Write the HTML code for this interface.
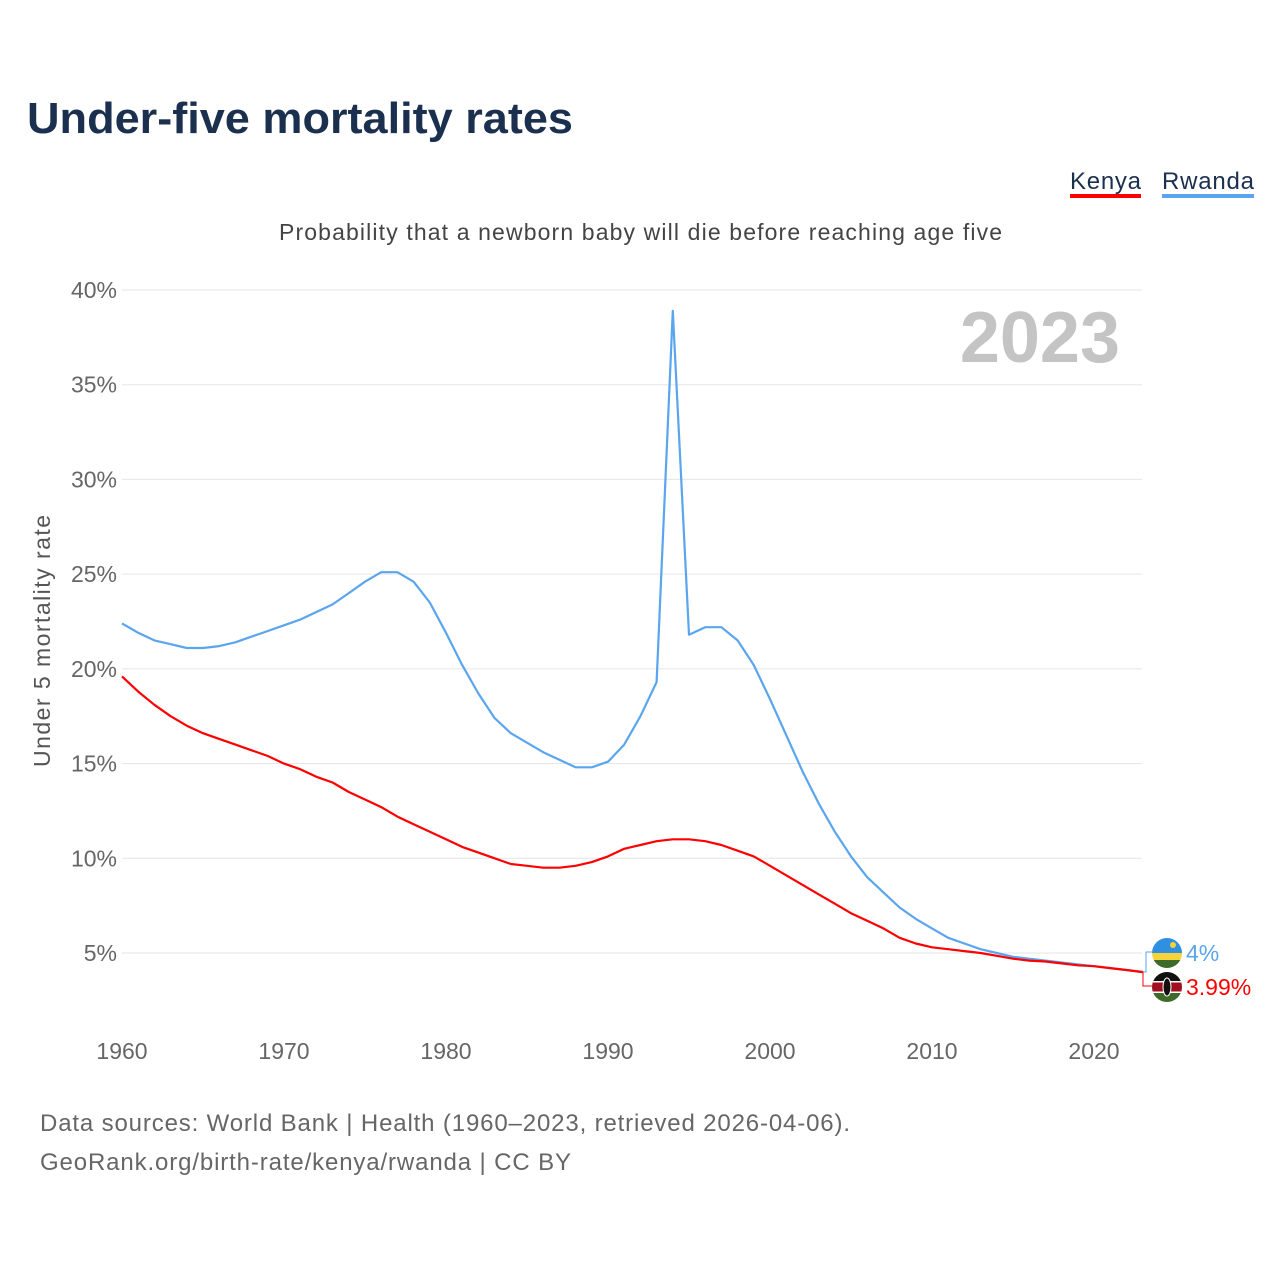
<!DOCTYPE html>
<html><head><meta charset="utf-8"><style>
body{margin:0;background:#fff;font-family:"Liberation Sans",sans-serif}
</style></head><body>
<svg id="c" width="1280" height="1280" viewBox="0 0 1280 1280" xmlns="http://www.w3.org/2000/svg">
<text x="27" y="133" font-size="44" font-weight="bold" fill="#1b2f4e" textLength="546" lengthAdjust="spacingAndGlyphs">Under-five mortality rates</text>
<g>
<text x="1070" y="189" font-size="24" fill="#1b2f4e" textLength="71">Kenya</text>
<rect x="1070" y="194" width="71" height="4" fill="#ff0000"/>
<text x="1162" y="189" font-size="24" fill="#1b2f4e" textLength="92">Rwanda</text>
<rect x="1162" y="194" width="92" height="4" fill="#5aa5ee"/>
</g>
<text x="279" y="240" font-size="23" fill="#444" textLength="723">Probability that a newborn baby will die before reaching age five</text>
<text x="1120" y="362" font-size="72" font-weight="bold" fill="#c4c4c4" text-anchor="end">2023</text>
<text transform="translate(50,767) rotate(-90)" font-size="23" fill="#555" textLength="252">Under 5 mortality rate</text>
<g id="grid"></g><g id="lines"></g>
<text x="40" y="1131" font-size="24" fill="#666" textLength="810">Data sources: World Bank | Health (1960–2023, retrieved 2026-04-06).</text>
<text x="40" y="1170" font-size="24" fill="#666" textLength="531">GeoRank.org/birth-rate/kenya/rwanda | CC BY</text>
</svg>
<script>
const years=[];for(let y=1960;y<=2023;y++)years.push(y);
const rwanda=[22.4,21.9,21.5,21.3,21.1,21.1,21.2,21.4,21.7,22.0,22.3,22.6,23.0,23.4,24.0,24.6,25.1,25.1,24.6,23.5,21.9,20.2,18.7,17.4,16.6,16.1,15.6,15.2,14.8,14.8,15.1,16.0,17.5,19.3,38.9,21.8,22.2,22.2,21.5,20.2,18.4,16.5,14.6,12.9,11.4,10.1,9.0,8.2,7.4,6.8,6.3,5.8,5.5,5.2,5.0,4.8,4.7,4.6,4.5,4.4,4.3,4.2,4.1,4.0];
const kenya=[19.6,18.8,18.1,17.5,17.0,16.6,16.3,16.0,15.7,15.4,15.0,14.7,14.3,14.0,13.5,13.1,12.7,12.2,11.8,11.4,11.0,10.6,10.3,10.0,9.7,9.6,9.5,9.5,9.6,9.8,10.1,10.5,10.7,10.9,11.0,11.0,10.9,10.7,10.4,10.1,9.6,9.1,8.6,8.1,7.6,7.1,6.7,6.3,5.8,5.5,5.3,5.2,5.1,5.0,4.85,4.7,4.6,4.55,4.45,4.35,4.3,4.2,4.1,3.99];
const yTicks=[5,10,15,20,25,30,35,40];
const xTicks=[1960,1970,1980,1990,2000,2010,2020];
const NS="http://www.w3.org/2000/svg";
const X=y=>122+(y-1960)*16.2;
const Y=v=>1047.7-v*18.943;
const grid=document.getElementById('grid'),lines=document.getElementById('lines');
function mk(tag,at,par){const e=document.createElementNS(NS,tag);for(const k in at)e.setAttribute(k,at[k]);par.appendChild(e);return e;}
yTicks.forEach(t=>{
 const l=mk('line',{x1:122,x2:1142,y1:Y(t),y2:Y(t),stroke:'#e6e6e6','stroke-width':1},grid);
 
 
 const tx=mk('text',{x:117,y:Y(t)+8,'font-size':23,fill:'#666','text-anchor':'end'},grid);
 tx.textContent=t+'%';
 
 
});
xTicks.forEach(t=>{
 const tx=mk('text',{x:X(t),y:1059,'font-size':23,fill:'#666','text-anchor':'middle'},grid);
 tx.textContent=t;
 
 
});
function line(d,c,n){
 const p=mk('path',{d:d.map((v,i)=>(i?'L':'M')+X(years[i]).toFixed(1)+','+Y(v).toFixed(1)).join(''),fill:'none',stroke:c,'stroke-width':2.2,'stroke-linejoin':'round'},lines);
 
 
}
line(rwanda,'#5aa5ee','rwanda-line');
line(kenya,'#ff0000','kenya-line');
const ex=X(2023);
const lr=rwanda[rwanda.length-1],lk=kenya[kenya.length-1];
mk('path',{d:`M${ex},${Y(lr)} L1146,${Y(lr)} L1146,952 L1152,952`,fill:'none',stroke:'#5aa5ee','stroke-width':1},lines);
mk('path',{d:`M${ex},${Y(lk)} L1143,${Y(lk)} L1143,986 L1152,986`,fill:'none',stroke:'#ff0000','stroke-width':1},lines);
function flag(cy,kind){
 const g=mk('g',{},lines);
 
 
 const cid='cl'+kind;
 const cp=mk('clipPath',{id:cid},g);mk('circle',{cx:1167,cy:cy,r:15},cp);
 const h=mk('g',{'clip-path':`url(#${cid})`},g);
 if(kind==='rwanda'){
  mk('rect',{x:1152,y:cy-15,width:30,height:15,fill:'#2f8fe0'},h);
  mk('rect',{x:1152,y:cy,width:30,height:7,fill:'#f5d33a'},h);
  mk('rect',{x:1152,y:cy+7,width:30,height:8,fill:'#3f6b2a'},h);
  mk('circle',{cx:1173,cy:cy-8,r:3,fill:'#f5d33a'},h);
 }else{
  mk('rect',{x:1152,y:cy-15,width:30,height:10,fill:'#111'},h);
  mk('rect',{x:1152,y:cy-5,width:30,height:10,fill:'#a01020'},h);
  mk('rect',{x:1152,y:cy+5,width:30,height:10,fill:'#3f6b2a'},h);
  mk('rect',{x:1152,y:cy-6,width:30,height:1.5,fill:'#fff'},h);
  mk('rect',{x:1152,y:cy+4.5,width:30,height:1.5,fill:'#fff'},h);
  mk('ellipse',{cx:1167,cy:cy,rx:4,ry:9,fill:'#111',stroke:'#fff','stroke-width':1},h);
 }
}
flag(953,'rwanda');flag(987,'kenya');
const t1=mk('text',{x:1186,y:961,'font-size':23,fill:'#5aa5ee'},lines);t1.textContent=lr+'%';


const t2=mk('text',{x:1186,y:995,'font-size':23,fill:'#ff0000'},lines);t2.textContent=lk+'%';


</script>
</body></html>
